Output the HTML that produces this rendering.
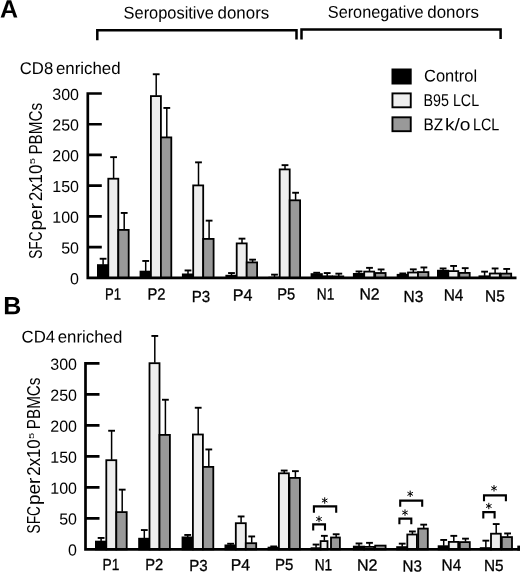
<!DOCTYPE html>
<html><head><meta charset="utf-8"><title>Figure</title>
<style>html,body{margin:0;padding:0;background:#fff;}body{width:520px;height:572px;overflow:hidden;font-family:"Liberation Sans",sans-serif;}svg{display:block;filter:grayscale(1);}</style>
</head><body>
<svg width="520" height="572" viewBox="0 0 520 572" font-family="Liberation Sans, sans-serif" fill="#000">
<rect width="520" height="572" fill="#fff"/>
<text transform="rotate(0.04 0 17.5)" x="0" y="17.5" font-size="25" font-weight="bold">A</text>
<text transform="rotate(0.04 3.3 314.2)" x="3.3" y="314.2" font-size="25" font-weight="bold">B</text>
<text transform="rotate(0.04 123.6 18.4)" x="123.6" y="18.4" font-size="17" textLength="90.2" lengthAdjust="spacingAndGlyphs">Seropositive</text><text transform="rotate(0.04 217.6 18.4)" x="217.6" y="18.4" font-size="17" textLength="51.6" lengthAdjust="spacingAndGlyphs">donors</text>
<text transform="rotate(0.04 327.8 17.8)" x="327.8" y="17.8" font-size="17" textLength="95.8" lengthAdjust="spacingAndGlyphs">Seronegative</text><text transform="rotate(0.04 427.3 17.8)" x="427.3" y="17.8" font-size="17" textLength="51.7" lengthAdjust="spacingAndGlyphs">donors</text>
<path d="M97.3 40.2V30.2H296.5V39.6" stroke="#000" stroke-width="2.5" fill="none"/>
<path d="M301.5 39.6V29.4H500.6V39" stroke="#000" stroke-width="2.5" fill="none"/>
<text transform="rotate(0.04 19.8 74)" x="19.8" y="74" font-size="17" textLength="33.4" lengthAdjust="spacingAndGlyphs">CD8</text><text transform="rotate(0.04 56.0 74)" x="56.0" y="74" font-size="17" textLength="64.6" lengthAdjust="spacingAndGlyphs">enriched</text>
<text transform="rotate(0.04 21.5 342.6)" x="21.5" y="342.6" font-size="17" textLength="33.6" lengthAdjust="spacingAndGlyphs">CD4</text><text transform="rotate(0.04 57.7 342.6)" x="57.7" y="342.6" font-size="17" textLength="64.6" lengthAdjust="spacingAndGlyphs">enriched</text>
<!-- legend -->
<rect x="391.5" y="68.5" width="20.2" height="16" fill="#000"/>
<rect x="392.45" y="93.4" width="18.3" height="13.9" fill="#eeeeee" stroke="#000" stroke-width="1.9"/>
<rect x="392.45" y="117.3" width="18.3" height="13.9" fill="#999999" stroke="#000" stroke-width="1.9"/>
<text transform="rotate(0.04 424 81.6)" x="424" y="81.6" font-size="17" textLength="53.2" lengthAdjust="spacingAndGlyphs">Control</text>
<text transform="rotate(0.04 423.6 105.9)" x="423.6" y="105.9" font-size="17" textLength="55.5" lengthAdjust="spacingAndGlyphs">B95 LCL</text>
<text transform="rotate(0.04 423.6 130.3)" x="423.6" y="130.3" font-size="17" textLength="19.6" lengthAdjust="spacingAndGlyphs">BZ</text><text transform="rotate(0.04 444.9 130.3)" x="444.9" y="130.3" font-size="17" textLength="25.6" lengthAdjust="spacingAndGlyphs">k/o</text><text transform="rotate(0.04 473 130.3)" x="473" y="130.3" font-size="17" textLength="26.3" lengthAdjust="spacingAndGlyphs">LCL</text>
<!-- chart A -->
<path d="M103.10 264.70V258.60" stroke="#000" stroke-width="1.5" fill="none"/><path d="M99.70 258.75H106.50" stroke="#000" stroke-width="1.9" fill="none"/>
<rect x="97.90" y="265.10" width="10.40" height="12.80" fill="#000" stroke="#000" stroke-width="1.8"/>
<path d="M113.60 178.30V157.00" stroke="#000" stroke-width="1.5" fill="none"/><path d="M110.20 157.15H117.00" stroke="#000" stroke-width="1.9" fill="none"/>
<rect x="108.30" y="178.70" width="10.00" height="99.20" fill="#eeeeee" stroke="#000" stroke-width="1.8"/>
<path d="M124.20 229.50V212.80" stroke="#000" stroke-width="1.5" fill="none"/><path d="M120.80 212.95H127.60" stroke="#000" stroke-width="1.9" fill="none"/>
<rect x="118.30" y="229.90" width="10.40" height="48.00" fill="#999999" stroke="#000" stroke-width="1.8"/>
<path d="M145.70 271.20V260.80" stroke="#000" stroke-width="1.5" fill="none"/><path d="M142.30 260.95H149.10" stroke="#000" stroke-width="1.9" fill="none"/>
<rect x="140.50" y="271.60" width="10.40" height="6.30" fill="#000" stroke="#000" stroke-width="1.8"/>
<path d="M156.20 95.70V74.10" stroke="#000" stroke-width="1.5" fill="none"/><path d="M152.80 74.25H159.60" stroke="#000" stroke-width="1.9" fill="none"/>
<rect x="150.90" y="96.10" width="10.00" height="181.80" fill="#eeeeee" stroke="#000" stroke-width="1.8"/>
<path d="M166.80 137.00V107.80" stroke="#000" stroke-width="1.5" fill="none"/><path d="M163.40 107.95H170.20" stroke="#000" stroke-width="1.9" fill="none"/>
<rect x="160.90" y="137.40" width="10.40" height="140.50" fill="#999999" stroke="#000" stroke-width="1.8"/>
<path d="M188.00 274.00V270.30" stroke="#000" stroke-width="1.5" fill="none"/><path d="M184.60 270.45H191.40" stroke="#000" stroke-width="1.9" fill="none"/>
<rect x="182.80" y="274.40" width="10.40" height="3.50" fill="#000" stroke="#000" stroke-width="1.8"/>
<path d="M198.50 185.00V162.20" stroke="#000" stroke-width="1.5" fill="none"/><path d="M195.10 162.35H201.90" stroke="#000" stroke-width="1.9" fill="none"/>
<rect x="193.20" y="185.40" width="10.00" height="92.50" fill="#eeeeee" stroke="#000" stroke-width="1.8"/>
<path d="M209.10 238.50V220.50" stroke="#000" stroke-width="1.5" fill="none"/><path d="M205.70 220.65H212.50" stroke="#000" stroke-width="1.9" fill="none"/>
<rect x="203.20" y="238.90" width="10.40" height="39.00" fill="#999999" stroke="#000" stroke-width="1.8"/>
<path d="M231.50 275.30V272.90" stroke="#000" stroke-width="1.5" fill="none"/><path d="M228.10 273.05H234.90" stroke="#000" stroke-width="1.9" fill="none"/>
<rect x="226.30" y="275.70" width="10.40" height="2.20" fill="#000" stroke="#000" stroke-width="1.8"/>
<path d="M242.00 243.00V238.50" stroke="#000" stroke-width="1.5" fill="none"/><path d="M238.60 238.65H245.40" stroke="#000" stroke-width="1.9" fill="none"/>
<rect x="236.70" y="243.40" width="10.00" height="34.50" fill="#eeeeee" stroke="#000" stroke-width="1.8"/>
<path d="M252.60 262.00V259.50" stroke="#000" stroke-width="1.5" fill="none"/><path d="M249.20 259.65H256.00" stroke="#000" stroke-width="1.9" fill="none"/>
<rect x="246.70" y="262.40" width="10.40" height="15.50" fill="#999999" stroke="#000" stroke-width="1.8"/>
<path d="M274.50 277.20V274.50" stroke="#000" stroke-width="1.5" fill="none"/><path d="M271.10 274.65H277.90" stroke="#000" stroke-width="1.9" fill="none"/>
<rect x="269.30" y="277.60" width="10.40" height="0.30" fill="#000" stroke="#000" stroke-width="1.8"/>
<path d="M285.00 169.00V165.00" stroke="#000" stroke-width="1.5" fill="none"/><path d="M281.60 165.15H288.40" stroke="#000" stroke-width="1.9" fill="none"/>
<rect x="279.70" y="169.40" width="10.00" height="108.50" fill="#eeeeee" stroke="#000" stroke-width="1.8"/>
<path d="M295.60 199.90V192.60" stroke="#000" stroke-width="1.5" fill="none"/><path d="M292.20 192.75H299.00" stroke="#000" stroke-width="1.9" fill="none"/>
<rect x="289.70" y="200.30" width="10.40" height="77.60" fill="#999999" stroke="#000" stroke-width="1.8"/>
<path d="M316.70 273.70V272.60" stroke="#000" stroke-width="1.5" fill="none"/><path d="M313.30 272.75H320.10" stroke="#000" stroke-width="1.9" fill="none"/>
<rect x="311.50" y="274.10" width="10.40" height="3.80" fill="#000" stroke="#000" stroke-width="1.8"/>
<path d="M327.20 275.90V272.90" stroke="#000" stroke-width="1.5" fill="none"/><path d="M323.80 273.05H330.60" stroke="#000" stroke-width="1.9" fill="none"/>
<rect x="321.90" y="276.30" width="10.00" height="1.60" fill="#eeeeee" stroke="#000" stroke-width="1.8"/>
<path d="M338.80 276.00V273.50" stroke="#000" stroke-width="1.5" fill="none"/><path d="M335.40 273.65H342.20" stroke="#000" stroke-width="1.9" fill="none"/>
<rect x="332.90" y="276.40" width="10.40" height="1.50" fill="#999999" stroke="#000" stroke-width="1.8"/>
<path d="M359.00 273.50V271.30" stroke="#000" stroke-width="1.5" fill="none"/><path d="M355.60 271.45H362.40" stroke="#000" stroke-width="1.9" fill="none"/>
<rect x="353.80" y="273.90" width="10.40" height="4.00" fill="#000" stroke="#000" stroke-width="1.8"/>
<path d="M369.50 271.20V267.70" stroke="#000" stroke-width="1.5" fill="none"/><path d="M366.10 267.85H372.90" stroke="#000" stroke-width="1.9" fill="none"/>
<rect x="364.20" y="271.60" width="10.00" height="6.30" fill="#eeeeee" stroke="#000" stroke-width="1.8"/>
<path d="M381.10 272.60V269.30" stroke="#000" stroke-width="1.5" fill="none"/><path d="M377.70 269.45H384.50" stroke="#000" stroke-width="1.9" fill="none"/>
<rect x="375.20" y="273.00" width="10.40" height="4.90" fill="#999999" stroke="#000" stroke-width="1.8"/>
<path d="M402.80 274.40V273.30" stroke="#000" stroke-width="1.5" fill="none"/><path d="M399.40 273.45H406.20" stroke="#000" stroke-width="1.9" fill="none"/>
<rect x="397.60" y="274.80" width="10.40" height="3.10" fill="#000" stroke="#000" stroke-width="1.8"/>
<path d="M413.30 272.10V269.20" stroke="#000" stroke-width="1.5" fill="none"/><path d="M409.90 269.35H416.70" stroke="#000" stroke-width="1.9" fill="none"/>
<rect x="408.00" y="272.50" width="10.00" height="5.40" fill="#eeeeee" stroke="#000" stroke-width="1.8"/>
<path d="M423.90 271.70V267.30" stroke="#000" stroke-width="1.5" fill="none"/><path d="M420.50 267.45H427.30" stroke="#000" stroke-width="1.9" fill="none"/>
<rect x="418.00" y="272.10" width="10.40" height="5.80" fill="#999999" stroke="#000" stroke-width="1.8"/>
<path d="M443.10 270.30V268.30" stroke="#000" stroke-width="1.5" fill="none"/><path d="M439.70 268.45H446.50" stroke="#000" stroke-width="1.9" fill="none"/>
<rect x="437.90" y="270.70" width="10.40" height="7.20" fill="#000" stroke="#000" stroke-width="1.8"/>
<path d="M453.60 270.70V265.80" stroke="#000" stroke-width="1.5" fill="none"/><path d="M450.20 265.95H457.00" stroke="#000" stroke-width="1.9" fill="none"/>
<rect x="448.30" y="271.10" width="10.00" height="6.80" fill="#eeeeee" stroke="#000" stroke-width="1.8"/>
<path d="M465.20 272.50V268.00" stroke="#000" stroke-width="1.5" fill="none"/><path d="M461.80 268.15H468.60" stroke="#000" stroke-width="1.9" fill="none"/>
<rect x="459.30" y="272.90" width="10.40" height="5.00" fill="#999999" stroke="#000" stroke-width="1.8"/>
<path d="M484.60 275.90V271.50" stroke="#000" stroke-width="1.5" fill="none"/><path d="M481.20 271.65H488.00" stroke="#000" stroke-width="1.9" fill="none"/>
<rect x="479.40" y="276.30" width="10.40" height="1.60" fill="#000" stroke="#000" stroke-width="1.8"/>
<path d="M495.10 273.10V268.30" stroke="#000" stroke-width="1.5" fill="none"/><path d="M491.70 268.45H498.50" stroke="#000" stroke-width="1.9" fill="none"/>
<rect x="489.80" y="273.50" width="10.00" height="4.40" fill="#eeeeee" stroke="#000" stroke-width="1.8"/>
<path d="M506.70 273.20V268.80" stroke="#000" stroke-width="1.5" fill="none"/><path d="M503.30 268.95H510.10" stroke="#000" stroke-width="1.9" fill="none"/>
<rect x="500.80" y="273.60" width="10.40" height="4.30" fill="#999999" stroke="#000" stroke-width="1.8"/>
<path d="M87.8 92.15V279.25M87.8 277.90H516.5M87.8 93.50H101.8M87.8 124.23H101.8M87.8 154.97H101.8M87.8 185.70H101.8M87.8 216.43H101.8M87.8 247.17H101.8" stroke="#000" stroke-width="2.7" fill="none"/>
<text transform="rotate(0.04 79.0 99.90)" x="79.0" y="99.90" text-anchor="end" font-size="16">300</text>
<text transform="rotate(0.04 79.0 130.63)" x="79.0" y="130.63" text-anchor="end" font-size="16">250</text>
<text transform="rotate(0.04 79.0 161.37)" x="79.0" y="161.37" text-anchor="end" font-size="16">200</text>
<text transform="rotate(0.04 79.0 192.10)" x="79.0" y="192.10" text-anchor="end" font-size="16">150</text>
<text transform="rotate(0.04 79.0 222.83)" x="79.0" y="222.83" text-anchor="end" font-size="16">100</text>
<text transform="rotate(0.04 79.0 253.57)" x="79.0" y="253.57" text-anchor="end" font-size="16">50</text>
<text transform="rotate(0.04 79.0 284.30)" x="79.0" y="284.30" text-anchor="end" font-size="16">0</text>
<text transform="rotate(0.04 105.0 299.5)" x="105.0" y="299.5" font-size="16" textLength="16.0" lengthAdjust="spacingAndGlyphs" stroke="#000" stroke-width="0.3">P1</text>
<text transform="rotate(0.04 147.4 299.5)" x="147.4" y="299.5" font-size="16" textLength="18.0" lengthAdjust="spacingAndGlyphs" stroke="#000" stroke-width="0.3">P2</text>
<text transform="rotate(0.04 191.8 302)" x="191.8" y="302" font-size="16" textLength="18.4" lengthAdjust="spacingAndGlyphs" stroke="#000" stroke-width="0.3">P3</text>
<text transform="rotate(0.04 232.8 300.6)" x="232.8" y="300.6" font-size="16" textLength="19.7" lengthAdjust="spacingAndGlyphs" stroke="#000" stroke-width="0.3">P4</text>
<text transform="rotate(0.04 277.2 299.5)" x="277.2" y="299.5" font-size="16" textLength="18.0" lengthAdjust="spacingAndGlyphs" stroke="#000" stroke-width="0.3">P5</text>
<text transform="rotate(0.04 316.8 299.5)" x="316.8" y="299.5" font-size="16" textLength="17.5" lengthAdjust="spacingAndGlyphs" stroke="#000" stroke-width="0.3">N1</text>
<text transform="rotate(0.04 359.5 299.5)" x="359.5" y="299.5" font-size="16" textLength="20.1" lengthAdjust="spacingAndGlyphs" stroke="#000" stroke-width="0.3">N2</text>
<text transform="rotate(0.04 403.5 302)" x="403.5" y="302" font-size="16" textLength="19.7" lengthAdjust="spacingAndGlyphs" stroke="#000" stroke-width="0.3">N3</text>
<text transform="rotate(0.04 443.7 300.4)" x="443.7" y="300.4" font-size="16" textLength="19.7" lengthAdjust="spacingAndGlyphs" stroke="#000" stroke-width="0.3">N4</text>
<text transform="rotate(0.04 485.1 301.5)" x="485.1" y="301.5" font-size="16" textLength="19.7" lengthAdjust="spacingAndGlyphs" stroke="#000" stroke-width="0.3">N5</text>
<g transform="translate(41.9,257.9) rotate(-90)">
<text  x="-0.9" y="0" font-size="17.5" textLength="27.4" lengthAdjust="spacingAndGlyphs">SFC</text>
<text  x="27.4" y="0" font-size="17.5" textLength="27.5" lengthAdjust="spacingAndGlyphs">per</text>
<text  x="56.8" y="0" font-size="17.5" textLength="36.4" lengthAdjust="spacingAndGlyphs">2x10</text>
<text  x="103.3" y="0" font-size="17.5" textLength="51.7" lengthAdjust="spacingAndGlyphs">PBMCs</text>
<text  x="93.6" y="-6.6" font-size="7.8" textLength="6.3" lengthAdjust="spacingAndGlyphs">5</text>
</g>
<!-- chart B -->
<path d="M101.10 541.20V537.80" stroke="#000" stroke-width="1.5" fill="none"/><path d="M97.70 537.95H104.50" stroke="#000" stroke-width="1.9" fill="none"/>
<rect x="95.90" y="541.60" width="10.40" height="7.80" fill="#000" stroke="#000" stroke-width="1.8"/>
<path d="M111.60 459.80V430.60" stroke="#000" stroke-width="1.5" fill="none"/><path d="M108.20 430.75H115.00" stroke="#000" stroke-width="1.9" fill="none"/>
<rect x="106.30" y="460.20" width="10.00" height="89.20" fill="#eeeeee" stroke="#000" stroke-width="1.8"/>
<path d="M122.20 511.70V489.50" stroke="#000" stroke-width="1.5" fill="none"/><path d="M118.80 489.65H125.60" stroke="#000" stroke-width="1.9" fill="none"/>
<rect x="116.30" y="512.10" width="10.40" height="37.30" fill="#999999" stroke="#000" stroke-width="1.8"/>
<path d="M144.30 538.30V529.90" stroke="#000" stroke-width="1.5" fill="none"/><path d="M140.90 530.05H147.70" stroke="#000" stroke-width="1.9" fill="none"/>
<rect x="139.10" y="538.70" width="10.40" height="10.70" fill="#000" stroke="#000" stroke-width="1.8"/>
<path d="M154.80 362.80V335.80" stroke="#000" stroke-width="1.5" fill="none"/><path d="M151.40 335.95H158.20" stroke="#000" stroke-width="1.9" fill="none"/>
<rect x="149.50" y="363.20" width="10.00" height="186.20" fill="#eeeeee" stroke="#000" stroke-width="1.8"/>
<path d="M165.40 434.50V399.60" stroke="#000" stroke-width="1.5" fill="none"/><path d="M162.00 399.75H168.80" stroke="#000" stroke-width="1.9" fill="none"/>
<rect x="159.50" y="434.90" width="10.40" height="114.50" fill="#999999" stroke="#000" stroke-width="1.8"/>
<path d="M187.70 537.00V534.80" stroke="#000" stroke-width="1.5" fill="none"/><path d="M184.30 534.95H191.10" stroke="#000" stroke-width="1.9" fill="none"/>
<rect x="182.50" y="537.40" width="10.40" height="12.00" fill="#000" stroke="#000" stroke-width="1.8"/>
<path d="M198.20 434.10V407.60" stroke="#000" stroke-width="1.5" fill="none"/><path d="M194.80 407.75H201.60" stroke="#000" stroke-width="1.9" fill="none"/>
<rect x="192.90" y="434.50" width="10.00" height="114.90" fill="#eeeeee" stroke="#000" stroke-width="1.8"/>
<path d="M208.80 466.50V449.30" stroke="#000" stroke-width="1.5" fill="none"/><path d="M205.40 449.45H212.20" stroke="#000" stroke-width="1.9" fill="none"/>
<rect x="202.90" y="466.90" width="10.40" height="82.50" fill="#999999" stroke="#000" stroke-width="1.8"/>
<path d="M230.60 545.00V543.60" stroke="#000" stroke-width="1.5" fill="none"/><path d="M227.20 543.75H234.00" stroke="#000" stroke-width="1.9" fill="none"/>
<rect x="225.40" y="545.40" width="10.40" height="4.00" fill="#000" stroke="#000" stroke-width="1.8"/>
<path d="M241.10 522.80V516.30" stroke="#000" stroke-width="1.5" fill="none"/><path d="M237.70 516.45H244.50" stroke="#000" stroke-width="1.9" fill="none"/>
<rect x="235.80" y="523.20" width="10.00" height="26.20" fill="#eeeeee" stroke="#000" stroke-width="1.8"/>
<path d="M251.70 542.80V536.30" stroke="#000" stroke-width="1.5" fill="none"/><path d="M248.30 536.45H255.10" stroke="#000" stroke-width="1.9" fill="none"/>
<rect x="245.80" y="543.20" width="10.40" height="6.20" fill="#999999" stroke="#000" stroke-width="1.8"/>
<path d="M273.70 547.20V546.30" stroke="#000" stroke-width="1.5" fill="none"/><path d="M270.30 546.45H277.10" stroke="#000" stroke-width="1.9" fill="none"/>
<rect x="268.50" y="547.60" width="10.40" height="1.80" fill="#000" stroke="#000" stroke-width="1.8"/>
<path d="M284.20 472.90V470.40" stroke="#000" stroke-width="1.5" fill="none"/><path d="M280.80 470.55H287.60" stroke="#000" stroke-width="1.9" fill="none"/>
<rect x="278.90" y="473.30" width="10.00" height="76.10" fill="#eeeeee" stroke="#000" stroke-width="1.8"/>
<path d="M295.40 477.50V471.00" stroke="#000" stroke-width="1.5" fill="none"/><path d="M292.00 471.15H298.80" stroke="#000" stroke-width="1.9" fill="none"/>
<rect x="289.50" y="477.90" width="10.40" height="71.50" fill="#999999" stroke="#000" stroke-width="1.8"/>
<path d="M316.05 547.80V544.40" stroke="#000" stroke-width="1.5" fill="none"/><path d="M312.65 544.55H319.45" stroke="#000" stroke-width="1.9" fill="none"/>
<rect x="311.50" y="548.20" width="9.10" height="1.20" fill="#000" stroke="#000" stroke-width="1.8"/>
<path d="M324.35 540.70V535.70" stroke="#000" stroke-width="1.5" fill="none"/><path d="M320.95 535.85H327.75" stroke="#000" stroke-width="1.9" fill="none"/>
<rect x="320.60" y="541.10" width="6.90" height="8.30" fill="#eeeeee" stroke="#000" stroke-width="1.8"/>
<path d="M336.15 537.10V534.10" stroke="#000" stroke-width="1.5" fill="none"/><path d="M332.75 534.25H339.55" stroke="#000" stroke-width="1.9" fill="none"/>
<rect x="331.00" y="537.50" width="8.90" height="11.90" fill="#999999" stroke="#000" stroke-width="1.8"/>
<path d="M359.00 546.20V543.30" stroke="#000" stroke-width="1.5" fill="none"/><path d="M355.60 543.45H362.40" stroke="#000" stroke-width="1.9" fill="none"/>
<rect x="353.80" y="546.60" width="10.40" height="2.80" fill="#000" stroke="#000" stroke-width="1.8"/>
<path d="M369.50 546.50V542.70" stroke="#000" stroke-width="1.5" fill="none"/><path d="M366.10 542.85H372.90" stroke="#000" stroke-width="1.9" fill="none"/>
<rect x="364.20" y="546.90" width="10.00" height="2.50" fill="#eeeeee" stroke="#000" stroke-width="1.8"/>
<rect x="375.20" y="545.60" width="10.40" height="3.80" fill="#999999" stroke="#000" stroke-width="1.8"/>
<path d="M402.20 546.70V543.50" stroke="#000" stroke-width="1.5" fill="none"/><path d="M398.80 543.65H405.60" stroke="#000" stroke-width="1.9" fill="none"/>
<rect x="397.10" y="547.10" width="10.20" height="2.30" fill="#000" stroke="#000" stroke-width="1.8"/>
<path d="M412.40 534.10V531.30" stroke="#000" stroke-width="1.5" fill="none"/><path d="M409.00 531.45H415.80" stroke="#000" stroke-width="1.9" fill="none"/>
<rect x="407.30" y="534.50" width="9.60" height="14.90" fill="#eeeeee" stroke="#000" stroke-width="1.8"/>
<path d="M423.70 528.20V524.50" stroke="#000" stroke-width="1.5" fill="none"/><path d="M420.30 524.65H427.10" stroke="#000" stroke-width="1.9" fill="none"/>
<rect x="418.20" y="528.60" width="9.60" height="20.80" fill="#999999" stroke="#000" stroke-width="1.8"/>
<path d="M443.70 545.80V539.80" stroke="#000" stroke-width="1.5" fill="none"/><path d="M440.30 539.95H447.10" stroke="#000" stroke-width="1.9" fill="none"/>
<rect x="438.60" y="546.20" width="10.20" height="3.20" fill="#000" stroke="#000" stroke-width="1.8"/>
<path d="M453.80 541.50V535.70" stroke="#000" stroke-width="1.5" fill="none"/><path d="M450.40 535.85H457.20" stroke="#000" stroke-width="1.9" fill="none"/>
<rect x="448.80" y="541.90" width="9.40" height="7.50" fill="#eeeeee" stroke="#000" stroke-width="1.8"/>
<path d="M465.50 541.70V538.50" stroke="#000" stroke-width="1.5" fill="none"/><path d="M462.10 538.65H468.90" stroke="#000" stroke-width="1.9" fill="none"/>
<rect x="459.80" y="542.10" width="10.00" height="7.30" fill="#999999" stroke="#000" stroke-width="1.8"/>
<path d="M485.85 547.70V540.50" stroke="#000" stroke-width="1.5" fill="none"/><path d="M482.45 540.65H489.25" stroke="#000" stroke-width="1.9" fill="none"/>
<rect x="480.70" y="548.10" width="10.30" height="1.30" fill="#000" stroke="#000" stroke-width="1.8"/>
<path d="M496.20 533.30V523.90" stroke="#000" stroke-width="1.5" fill="none"/><path d="M492.80 524.05H499.60" stroke="#000" stroke-width="1.9" fill="none"/>
<rect x="491.00" y="533.70" width="9.80" height="15.70" fill="#eeeeee" stroke="#000" stroke-width="1.8"/>
<path d="M507.60 536.70V533.30" stroke="#000" stroke-width="1.5" fill="none"/><path d="M504.20 533.45H511.00" stroke="#000" stroke-width="1.9" fill="none"/>
<rect x="501.80" y="537.10" width="10.20" height="12.30" fill="#999999" stroke="#000" stroke-width="1.8"/>
<rect x="517.3" y="545.6" width="3" height="5" fill="#000"/>
<path d="M85.5 361.95V550.75M85.5 549.40H520M85.5 363.30H99.5M85.5 394.32H99.5M85.5 425.33H99.5M85.5 456.35H99.5M85.5 487.37H99.5M85.5 518.38H99.5" stroke="#000" stroke-width="2.7" fill="none"/>
<text transform="rotate(0.04 77.0 369.80)" x="77.0" y="369.80" text-anchor="end" font-size="16">300</text>
<text transform="rotate(0.04 77.0 400.77)" x="77.0" y="400.77" text-anchor="end" font-size="16">250</text>
<text transform="rotate(0.04 77.0 431.73)" x="77.0" y="431.73" text-anchor="end" font-size="16">200</text>
<text transform="rotate(0.04 77.0 462.70)" x="77.0" y="462.70" text-anchor="end" font-size="16">150</text>
<text transform="rotate(0.04 77.0 493.67)" x="77.0" y="493.67" text-anchor="end" font-size="16">100</text>
<text transform="rotate(0.04 77.0 524.63)" x="77.0" y="524.63" text-anchor="end" font-size="16">50</text>
<text transform="rotate(0.04 77.0 555.60)" x="77.0" y="555.60" text-anchor="end" font-size="16">0</text>
<text transform="rotate(0.04 102.5 570.1)" x="102.5" y="570.1" font-size="16" textLength="16.8" lengthAdjust="spacingAndGlyphs" stroke="#000" stroke-width="0.3">P1</text>
<text transform="rotate(0.04 145.3 570.1)" x="145.3" y="570.1" font-size="16" textLength="18.0" lengthAdjust="spacingAndGlyphs" stroke="#000" stroke-width="0.3">P2</text>
<text transform="rotate(0.04 189.3 571.0)" x="189.3" y="571.0" font-size="16" textLength="18.4" lengthAdjust="spacingAndGlyphs" stroke="#000" stroke-width="0.3">P3</text>
<text transform="rotate(0.04 230.7 570.2)" x="230.7" y="570.2" font-size="16" textLength="19.3" lengthAdjust="spacingAndGlyphs" stroke="#000" stroke-width="0.3">P4</text>
<text transform="rotate(0.04 275.1 570.1)" x="275.1" y="570.1" font-size="16" textLength="18.4" lengthAdjust="spacingAndGlyphs" stroke="#000" stroke-width="0.3">P5</text>
<text transform="rotate(0.04 314.7 570.3000000000001)" x="314.7" y="570.3000000000001" font-size="16" textLength="17.5" lengthAdjust="spacingAndGlyphs" stroke="#000" stroke-width="0.3">N1</text>
<text transform="rotate(0.04 357.0 570.6)" x="357.0" y="570.6" font-size="16" textLength="20.5" lengthAdjust="spacingAndGlyphs" stroke="#000" stroke-width="0.3">N2</text>
<text transform="rotate(0.04 402.6 571.5)" x="402.6" y="571.5" font-size="16" textLength="19.3" lengthAdjust="spacingAndGlyphs" stroke="#000" stroke-width="0.3">N3</text>
<text transform="rotate(0.04 441.6 570.6)" x="441.6" y="570.6" font-size="16" textLength="19.6" lengthAdjust="spacingAndGlyphs" stroke="#000" stroke-width="0.3">N4</text>
<text transform="rotate(0.04 483.9 571.0)" x="483.9" y="571.0" font-size="16" textLength="19.6" lengthAdjust="spacingAndGlyphs" stroke="#000" stroke-width="0.3">N5</text>
<g transform="translate(40.1,532.5) rotate(-90)">
<text  x="-0.9" y="0" font-size="17.5" textLength="27.4" lengthAdjust="spacingAndGlyphs">SFC</text>
<text  x="27.4" y="0" font-size="17.5" textLength="27.5" lengthAdjust="spacingAndGlyphs">per</text>
<text  x="56.8" y="0" font-size="17.5" textLength="36.4" lengthAdjust="spacingAndGlyphs">2x10</text>
<text  x="103.3" y="0" font-size="17.5" textLength="51.7" lengthAdjust="spacingAndGlyphs">PBMCs</text>
<text  x="93.6" y="-6.6" font-size="7.8" textLength="6.3" lengthAdjust="spacingAndGlyphs">5</text>
</g>
<path d="M313.9 512.8V506.4H336.2V512.8" stroke="#000" stroke-width="2.1" fill="none"/>
<path d="M324.70 497.30L324.70 503.70M327.47 498.90L321.93 502.10M327.47 502.10L321.93 498.90" stroke="#000" stroke-width="1.0" fill="none"/>
<path d="M313.2 530.4V524.4H325V530.4" stroke="#000" stroke-width="2.1" fill="none"/>
<path d="M319.00 515.80L319.00 522.20M321.77 517.40L316.23 520.60M321.77 520.60L316.23 517.40" stroke="#000" stroke-width="1.0" fill="none"/>
<path d="M400.2 506.8V500.6H422.2V506.8" stroke="#000" stroke-width="2.1" fill="none"/>
<path d="M410.20 490.60L410.20 497.00M412.97 492.20L407.43 495.40M412.97 495.40L407.43 492.20" stroke="#000" stroke-width="1.0" fill="none"/>
<path d="M399.4 524.2V518.6H411.3V524.2" stroke="#000" stroke-width="2.1" fill="none"/>
<path d="M405.00 509.40L405.00 515.80M407.77 511.00L402.23 514.20M407.77 514.20L402.23 511.00" stroke="#000" stroke-width="1.0" fill="none"/>
<path d="M484 501.3V495.4H505.9V501.3" stroke="#000" stroke-width="2.1" fill="none"/>
<path d="M494.00 485.10L494.00 491.50M496.77 486.70L491.23 489.90M496.77 489.90L491.23 486.70" stroke="#000" stroke-width="1.0" fill="none"/>
<path d="M483.3 518.4V512.1H494.6V518.4" stroke="#000" stroke-width="2.1" fill="none"/>
<path d="M488.80 502.80L488.80 509.20M491.57 504.40L486.03 507.60M491.57 507.60L486.03 504.40" stroke="#000" stroke-width="1.0" fill="none"/>
</svg>
</body></html>
